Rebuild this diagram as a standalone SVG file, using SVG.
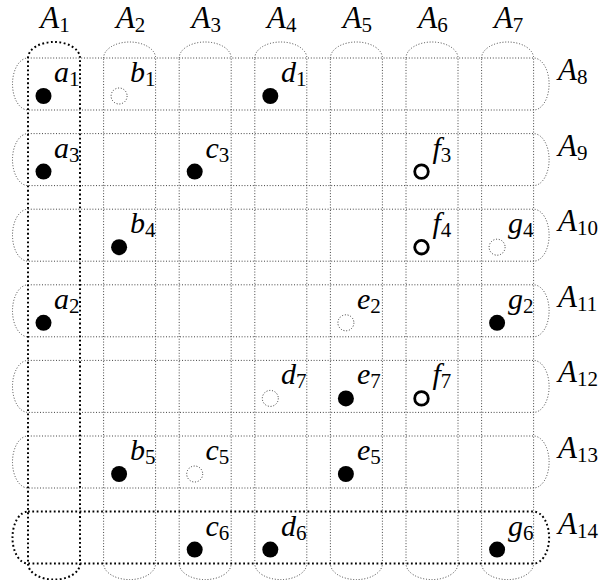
<svg xmlns="http://www.w3.org/2000/svg" width="605" height="580" viewBox="0 0 605 580">
<style>
.thin{fill:none;stroke:#444;stroke-width:1;stroke-dasharray:1 1.8}
.thick{fill:none;stroke:#000;stroke-width:2;stroke-dasharray:1.8 2.5}
.full{fill:#000}
.ghost{fill:none;stroke:#333;stroke-width:1;stroke-dasharray:1 1.8}
.open{fill:#fff;stroke:#000;stroke-width:2.8}
.lbl{font:italic 30px "Liberation Serif","DejaVu Serif",serif}
.hd{font:italic 31px "Liberation Serif","DejaVu Serif",serif}
.sub{font:normal 21px "Liberation Serif","DejaVu Serif",serif}
</style>
<rect width="605" height="580" fill="#fff"/>
<g id="sets">
  <g id="col-A2"><path class="thin" d="M103.6,58 A26,16 0 0 1 155.6,58 L155.6,563.6 A26,16 0 0 1 103.6,563.6 Z"/></g>
  <g id="col-A3"><path class="thin" d="M179.2,58 A26,16 0 0 1 231.2,58 L231.2,563.6 A26,16 0 0 1 179.2,563.6 Z"/></g>
  <g id="col-A4"><path class="thin" d="M254.8,58 A26,16 0 0 1 306.8,58 L306.8,563.6 A26,16 0 0 1 254.8,563.6 Z"/></g>
  <g id="col-A5"><path class="thin" d="M330.4,58 A26,16 0 0 1 382.4,58 L382.4,563.6 A26,16 0 0 1 330.4,563.6 Z"/></g>
  <g id="col-A6"><path class="thin" d="M406,58 A26,16 0 0 1 458,58 L458,563.6 A26,16 0 0 1 406,563.6 Z"/></g>
  <g id="col-A7"><path class="thin" d="M481.6,58 A26,16 0 0 1 533.6,58 L533.6,563.6 A26,16 0 0 1 481.6,563.6 Z"/></g>
  <g id="row-A8"><path class="thin" d="M28,58 L533.6,58 A15.5,26 0 0 1 533.6,110 L28,110 A15.5,26 0 0 1 28,58 Z"/></g>
  <g id="row-A9"><path class="thin" d="M28,133.6 L533.6,133.6 A15.5,26 0 0 1 533.6,185.6 L28,185.6 A15.5,26 0 0 1 28,133.6 Z"/></g>
  <g id="row-A10"><path class="thin" d="M28,209.2 L533.6,209.2 A15.5,26 0 0 1 533.6,261.2 L28,261.2 A15.5,26 0 0 1 28,209.2 Z"/></g>
  <g id="row-A11"><path class="thin" d="M28,284.8 L533.6,284.8 A15.5,26 0 0 1 533.6,336.8 L28,336.8 A15.5,26 0 0 1 28,284.8 Z"/></g>
  <g id="row-A12"><path class="thin" d="M28,360.4 L533.6,360.4 A15.5,26 0 0 1 533.6,412.4 L28,412.4 A15.5,26 0 0 1 28,360.4 Z"/></g>
  <g id="row-A13"><path class="thin" d="M28,436 L533.6,436 A15.5,26 0 0 1 533.6,488 L28,488 A15.5,26 0 0 1 28,436 Z"/></g>
  <g id="col-A1"><path class="thick" d="M28,58 A26,16 0 0 1 80,58 L80,563.6 A26,16 0 0 1 28,563.6 Z"/></g>
  <g id="row-A14"><path class="thick" d="M28,511.6 L533.6,511.6 A15.5,26 0 0 1 533.6,563.6 L28,563.6 A15.5,26 0 0 1 28,511.6 Z"/></g>
</g>
<g id="headers" fill="#000">
  <text class="hd" x="55" y="28" text-anchor="middle">A<tspan class="sub" dy="4">1</tspan></text>
  <text class="hd" x="130.6" y="28" text-anchor="middle">A<tspan class="sub" dy="4">2</tspan></text>
  <text class="hd" x="206.2" y="28" text-anchor="middle">A<tspan class="sub" dy="4">3</tspan></text>
  <text class="hd" x="281.8" y="28" text-anchor="middle">A<tspan class="sub" dy="4">4</tspan></text>
  <text class="hd" x="357.4" y="28" text-anchor="middle">A<tspan class="sub" dy="4">5</tspan></text>
  <text class="hd" x="433" y="28" text-anchor="middle">A<tspan class="sub" dy="4">6</tspan></text>
  <text class="hd" x="508.6" y="28" text-anchor="middle">A<tspan class="sub" dy="4">7</tspan></text>
  <text class="hd" x="558" y="80">A<tspan class="sub" dy="4">8</tspan></text>
  <text class="hd" x="558" y="155.6">A<tspan class="sub" dy="4">9</tspan></text>
  <text class="hd" x="558" y="231.2">A<tspan class="sub" dy="4">10</tspan></text>
  <text class="hd" x="558" y="306.8">A<tspan class="sub" dy="4">11</tspan></text>
  <text class="hd" x="558" y="382.4">A<tspan class="sub" dy="4">12</tspan></text>
  <text class="hd" x="558" y="458">A<tspan class="sub" dy="4">13</tspan></text>
  <text class="hd" x="558" y="533.6">A<tspan class="sub" dy="4">14</tspan></text>
</g>
<g id="elements" fill="#000">
  <g id="a1"><circle class="full" cx="43.5" cy="96" r="8"/><text class="lbl" x="54" y="82">a<tspan class="sub" dy="4">1</tspan></text></g>
  <g id="b1"><circle class="ghost" cx="119.1" cy="96" r="8"/><text class="lbl" x="130" y="82">b<tspan class="sub" dy="4">1</tspan></text></g>
  <g id="d1"><circle class="full" cx="270.3" cy="96" r="8"/><text class="lbl" x="281" y="82">d<tspan class="sub" dy="4">1</tspan></text></g>

  <g id="a3"><circle class="full" cx="43.5" cy="171.6" r="8"/><text class="lbl" x="54" y="157.6">a<tspan class="sub" dy="4">3</tspan></text></g>
  <g id="c3"><circle class="full" cx="194.7" cy="171.6" r="8"/><text class="lbl" x="205.5" y="157.6">c<tspan class="sub" dy="4">3</tspan></text></g>
  <g id="f3"><circle class="open" cx="421.5" cy="171.6" r="6.8"/><text class="lbl" x="432.5" y="157.6">f<tspan class="sub" dy="4">3</tspan></text></g>

  <g id="b4"><circle class="full" cx="119.1" cy="247.2" r="8"/><text class="lbl" x="130" y="233.2">b<tspan class="sub" dy="4">4</tspan></text></g>
  <g id="f4"><circle class="open" cx="421.5" cy="247.2" r="6.8"/><text class="lbl" x="432.5" y="233.2">f<tspan class="sub" dy="4">4</tspan></text></g>
  <g id="g4"><circle class="ghost" cx="497.1" cy="247.2" r="8"/><text class="lbl" x="508" y="233.2">g<tspan class="sub" dy="4">4</tspan></text></g>

  <g id="a2"><circle class="full" cx="43.5" cy="322.8" r="8"/><text class="lbl" x="54" y="308.8">a<tspan class="sub" dy="4">2</tspan></text></g>
  <g id="e2"><circle class="ghost" cx="345.9" cy="322.8" r="8"/><text class="lbl" x="357" y="308.8">e<tspan class="sub" dy="4">2</tspan></text></g>
  <g id="g2"><circle class="full" cx="497.1" cy="322.8" r="8"/><text class="lbl" x="508" y="308.8">g<tspan class="sub" dy="4">2</tspan></text></g>

  <g id="d7"><circle class="ghost" cx="270.3" cy="398.4" r="8"/><text class="lbl" x="281" y="384.4">d<tspan class="sub" dy="4">7</tspan></text></g>
  <g id="e7"><circle class="full" cx="345.9" cy="398.4" r="8"/><text class="lbl" x="357" y="384.4">e<tspan class="sub" dy="4">7</tspan></text></g>
  <g id="f7"><circle class="open" cx="421.5" cy="398.4" r="6.8"/><text class="lbl" x="432.5" y="384.4">f<tspan class="sub" dy="4">7</tspan></text></g>

  <g id="b5"><circle class="full" cx="119.1" cy="474" r="8"/><text class="lbl" x="130" y="460">b<tspan class="sub" dy="4">5</tspan></text></g>
  <g id="c5"><circle class="ghost" cx="194.7" cy="474" r="8"/><text class="lbl" x="205.5" y="460">c<tspan class="sub" dy="4">5</tspan></text></g>
  <g id="e5"><circle class="full" cx="345.9" cy="474" r="8"/><text class="lbl" x="357" y="460">e<tspan class="sub" dy="4">5</tspan></text></g>

  <g id="c6"><circle class="full" cx="194.7" cy="549.6" r="8"/><text class="lbl" x="205.5" y="535.6">c<tspan class="sub" dy="4">6</tspan></text></g>
  <g id="d6"><circle class="full" cx="270.3" cy="549.6" r="8"/><text class="lbl" x="281" y="535.6">d<tspan class="sub" dy="4">6</tspan></text></g>
  <g id="g6"><circle class="full" cx="497.1" cy="549.6" r="8"/><text class="lbl" x="508" y="535.6">g<tspan class="sub" dy="4">6</tspan></text></g>
</g>
<g id="connectors"/>
</svg>
